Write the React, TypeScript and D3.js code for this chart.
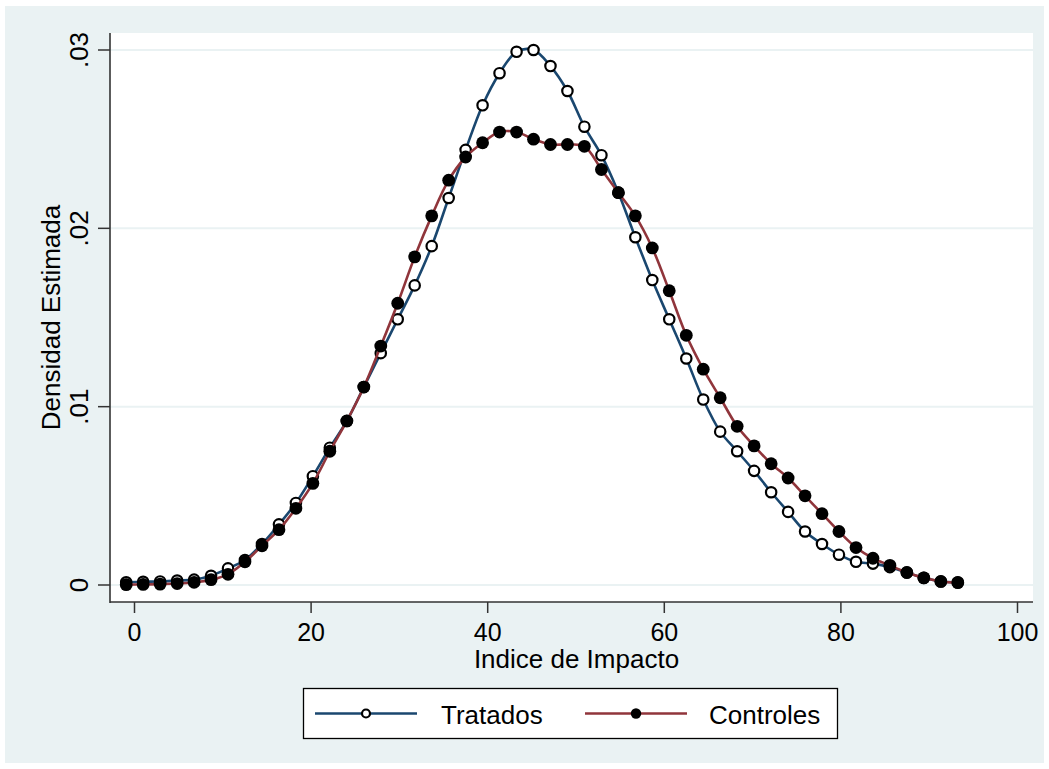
import * as d3 from 'd3';

// kdensity evaluation points (Indice de Impacto)
const xPoints = [
  -0.94, 0.98, 2.9, 4.83, 6.75, 8.67, 10.59, 12.51, 14.44, 16.36,
  18.28, 20.2, 22.12, 24.05, 25.97, 27.89, 29.81, 31.73, 33.66, 35.58,
  37.5, 39.42, 41.34, 43.27, 45.19, 47.11, 49.03, 50.95, 52.88, 54.8,
  56.72, 58.64, 60.56, 62.49, 64.41, 66.33, 68.25, 70.17, 72.1, 74.02,
  75.94, 77.86, 79.78, 81.71, 83.63, 85.55, 87.47, 89.39, 91.32, 93.24,
];

const tratados = [
  0.00015, 0.00018, 0.0002, 0.00025, 0.0003, 0.00052, 0.00093, 0.0014, 0.0023, 0.0034,
  0.0046, 0.0061, 0.0077, 0.0092, 0.0111, 0.013, 0.0149, 0.0168, 0.019, 0.0217,
  0.0244, 0.0269, 0.0287, 0.0299, 0.03, 0.0291, 0.0277, 0.0257, 0.0241, 0.022,
  0.0195, 0.0171, 0.0149, 0.0127, 0.0104, 0.0086, 0.0075, 0.0064, 0.0052, 0.0041,
  0.003, 0.0023, 0.0017, 0.0013, 0.0012, 0.001, 0.0007, 0.0004, 0.0002, 0.00015,
];

const controles = [
  0.00002, 0.00003, 0.00005, 0.00008, 0.00015, 0.0003, 0.0006, 0.0013, 0.0022, 0.0031,
  0.0043, 0.0057, 0.0075, 0.0092, 0.0111, 0.0134, 0.0158, 0.0184, 0.0207, 0.0227,
  0.024, 0.0248, 0.0254, 0.0254, 0.025, 0.0247, 0.0247, 0.0246, 0.0233, 0.022,
  0.0207, 0.0189, 0.0165, 0.014, 0.0121, 0.0105, 0.0089, 0.0078, 0.0068, 0.006,
  0.005, 0.004, 0.003, 0.0021, 0.0015, 0.0011, 0.0007, 0.0004, 0.0002, 0.00013,
];

const xTicks = [0, 20, 40, 60, 80, 100];
const yTicks = [0, 0.01, 0.02, 0.03];
const yTickLabels = ['0', '.01', '.02', '.03'];

const BLUE = '#1a476f';
const RED = '#90353b';
const BG = '#eaf2f3';
const FONT = '"Liberation Sans", Arial, sans-serif';

export default function App() {
  const W = 1049;
  const H = 769;
  const plot = { left: 110, right: 1033, top: 33, bottom: 602 };

  const x = d3.scaleLinear().domain([0, 100]).range([134.5, 1017.5]);
  const y = d3.scaleLinear().domain([0, 0.03]).range([585, 50]);

  const line = d3
    .line<number>()
    .x((_, i) => x(xPoints[i]))
    .y((d) => y(d))
    .curve(d3.curveCatmullRom.alpha(0.5));

  const midY = (plot.top + plot.bottom) / 2;
  const midX = (plot.left + plot.right) / 2 + 5;

  return (
    <svg
      width={W}
      height={H}
      style={{ position: 'absolute', left: 0, top: 0, background: '#fff' }}
      fontFamily={FONT}
    >
      {/* outer graph region */}
      <rect x={5} y={6} width={1039} height={757} fill={BG} />
      {/* plot region */}
      <rect
        x={plot.left}
        y={plot.top}
        width={plot.right - plot.left}
        height={plot.bottom - plot.top}
        fill="#fff"
      />

      {/* grid lines */}
      {yTicks.map((t) => (
        <line
          key={'g' + t}
          x1={plot.left}
          x2={plot.right}
          y1={y(t)}
          y2={y(t)}
          stroke={BG}
          strokeWidth={2}
        />
      ))}

      {/* Tratados */}
      <path d={line(tratados) || ''} fill="none" stroke={BLUE} strokeWidth={2.6} />
      {tratados.map((d, i) => (
        <circle
          key={'t' + i}
          cx={x(xPoints[i])}
          cy={y(d)}
          r={5.2}
          fill="#fff"
          stroke="#000"
          strokeWidth={2.2}
        />
      ))}

      {/* Controles */}
      <path d={line(controles) || ''} fill="none" stroke={RED} strokeWidth={2.6} />
      {controles.map((d, i) => (
        <circle key={'c' + i} cx={x(xPoints[i])} cy={y(d)} r={6.4} fill="#000" />
      ))}

      {/* axes */}
      <line x1={plot.left} x2={plot.left} y1={plot.top} y2={plot.bottom + 1} stroke="#333" strokeWidth={1.6} />
      <line x1={plot.left} x2={plot.right} y1={plot.bottom} y2={plot.bottom} stroke="#333" strokeWidth={1.6} />

      {/* y ticks */}
      {yTicks.map((t, i) => (
        <g key={'yt' + t}>
          <line x1={plot.left - 12} x2={plot.left} y1={y(t)} y2={y(t)} stroke="#333" strokeWidth={1.5} />
          <text
            transform={`translate(88,${y(t)}) rotate(-90)`}
            textAnchor="middle"
            fontSize={26}
            fill="#000"
          >
            {yTickLabels[i]}
          </text>
        </g>
      ))}

      {/* x ticks */}
      {xTicks.map((t) => (
        <g key={'xt' + t}>
          <line x1={x(t)} x2={x(t)} y1={plot.bottom} y2={plot.bottom + 11} stroke="#333" strokeWidth={1.5} />
          <text x={x(t)} y={641} textAnchor="middle" fontSize={25} fill="#000">
            {t}
          </text>
        </g>
      ))}

      {/* axis titles */}
      <text x={midX} y={668} textAnchor="middle" fontSize={26} fill="#000">
        Indice de Impacto
      </text>
      <text
        transform={`translate(60,${midY}) rotate(-90)`}
        textAnchor="middle"
        fontSize={26}
        fill="#000"
      >
        Densidad Estimada
      </text>

      {/* legend */}
      <rect x={303.5} y={688.5} width={534} height={50} fill="#fff" stroke="#000" strokeWidth={1.3} />
      <line x1={315} x2={417} y1={713.5} y2={713.5} stroke={BLUE} strokeWidth={2.6} />
      <circle cx={366} cy={713.5} r={4} fill="#fff" stroke="#000" strokeWidth={2.2} />
      <text x={441} y={724} fontSize={26} fill="#000">
        Tratados
      </text>
      <line x1={585} x2={687} y1={713.5} y2={713.5} stroke={RED} strokeWidth={2.6} />
      <circle cx={636} cy={713.5} r={5.2} fill="#000" />
      <text x={709} y={724} fontSize={26} fill="#000">
        Controles
      </text>
    </svg>
  );
}
